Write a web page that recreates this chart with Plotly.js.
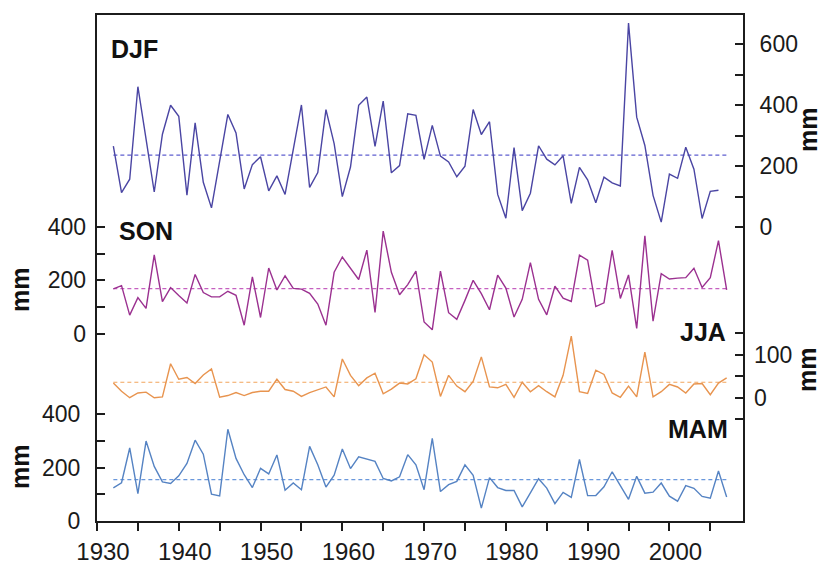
<!DOCTYPE html>
<html><head><meta charset="utf-8">
<script src="https://cdn.plot.ly/plotly-3.0.1.min.js"></script>
<style>html,body{margin:0;padding:0;background:#fff;} #chart{width:822px;height:564px;}</style>
</head><body><div id="chart"></div>
<script>
// ---- data ----
const yearsDJF = [1932,1933,1934,1935,1936,1937,1938,1939,1940,1941,1942,1943,1944,1945,1946,1947,1948,1949,
  1950,1951,1952,1953,1954,1955,1956,1957,1958,1959,1960,1961,1962,1963,1964,1965,1966,1967,1968,1969,
  1970,1971,1972,1973,1974,1975,1976,1977,1978,1979,1980,1981,1982,1983,1984,1985,1986,1987,1988,1989,
  1990,1991,1992,1993,1994,1995,1996,1997,1998,1999,2000,2001,2002,2003,2004,2005,2006];
const years = [1932,1933,1934,1935,1936,1937,1938,1939,1940,1941,1942,1943,1944,1945,1946,1947,1948,1949,
  1950,1951,1952,1953,1954,1955,1956,1957,1958,1959,1960,1961,1962,1963,1964,1965,1966,1967,1968,1969,
  1970,1971,1972,1973,1974,1975,1976,1977,1978,1979,1980,1981,1982,1983,1984,1985,1986,1987,1988,1989,
  1990,1991,1992,1993,1994,1995,1996,1997,1998,1999,2000,2001,2002,2003,2004,2005,2006,2007];

const djf = [266,113,157,461,289,115,305,400,364,105,342,147,63,216,370,309,125,205,
  231,119,168,107,254,401,130,179,386,274,100,197,400,427,265,414,178,202,372,367,
  222,334,233,214,165,200,386,304,346,107,29,261,54,111,267,223,204,234,78,196,
  155,80,164,145,135,670,361,268,104,16,174,160,262,190,28,117,121];
const son = [168,180,70,135,95,295,120,173,143,115,222,154,138,138,159,144,32,213,
  61,246,164,217,170,167,151,111,32,230,287,244,203,313,80,384,230,146,184,234,
  44,15,234,79,54,125,200,150,90,219,171,63,129,266,129,71,178,133,121,294,
  275,102,116,312,132,220,20,366,47,225,205,208,210,245,173,210,348,164];
const jja = [34,15,0,11,13,0,2,79,43,47,33,53,67,1,5,12,5,12,
  15,15,43,19,15,3,12,19,25,2,90,52,28,46,57,9,20,34,32,44,
  100,83,3,52,27,14,38,95,25,23,31,1,36,14,28,14,2,52,143,14,
  10,64,54,11,1,27,2,106,2,14,31,25,11,32,33,7,34,46];
const mam = [124,143,273,102,299,204,146,140,169,215,302,250,100,94,343,234,173,125,
  197,176,247,115,142,117,279,210,127,171,269,196,240,231,223,159,150,165,248,210,
  117,309,110,136,148,210,171,48,162,125,114,114,53,105,158,123,65,107,88,230,
  95,95,128,184,131,81,167,104,108,142,93,74,132,122,92,85,187,90];

// long-term means (dashed lines)
const meanYears = [1932, 2007];
const djfMean = [236, 236];
const sonMean = [169, 169];
const jjaMean = [36, 36];
const mamMean = [155, 155];

// axis ticks
const xTickVals = [1930,1935,1940,1945,1950,1955,1960,1965,1970,1975,1980,1985,1990,1995,2000,2005];
const xTickText = ['1930','','1940','','1950','','1960','','1970','','1980','','1990','','2000',''];
const leftTickVals = [0,100,200,300,400];
const leftTickText = ['0','','200','','400'];
const djfTickVals = [0,100,200,300,400,500,600];
const djfTickText = ['0','','200','','400','','600'];
const jjaTickVals = [-50,0,50,100,150];
const jjaTickText = ['','0','','100',''];

// ---- styling ----
const W = 822, H = 564;
const M = {l: 97, r: 79, t: 15, b: 43};
const PW = W - M.l - M.r, PH = H - M.t - M.b;
const px2x = px => (px - M.l) / PW;
const py2y = py => (H - M.b - py) / PH;

const AX = '#1c1c1c';
const FONT = 'Liberation Sans, Arial, sans-serif';
const colors = {djf: '#4a45a3', son: '#9b3190', jja: '#e8944f', mam: '#5583c3'};
const dashCol = {djf: '#5f5fd0', son: '#c560c0', jja: '#f2a55c', mam: '#6a98dc'};

function line(x, y, axis, color, name) {
  return {x: x, y: y, yaxis: axis, type: 'scatter', mode: 'lines', name: name,
    line: {color: color, width: 1.4}, hoverinfo: 'skip'};
}
function dash(x, y, axis, color) {
  return {x: x, y: y, yaxis: axis, type: 'scatter', mode: 'lines',
    line: {color: color, width: 1.2, dash: '4px,3px'}, hoverinfo: 'skip'};
}

const data = [
  dash(meanYears, djfMean, 'y3', dashCol.djf),
  dash(meanYears, sonMean, 'y2', dashCol.son),
  dash(meanYears, jjaMean, 'y4', dashCol.jja),
  dash(meanYears, mamMean, 'y', dashCol.mam),
  line(yearsDJF, djf, 'y3', colors.djf, 'DJF'),
  line(years, son, 'y2', colors.son, 'SON'),
  line(years, jja, 'y4', colors.jja, 'JJA'),
  line(years, mam, 'y', colors.mam, 'MAM')
];

const yCommon = {ticks: 'inside', ticklen: 8, tickwidth: 2, tickcolor: AX,
  showgrid: false, zeroline: false, tickfont: {family: FONT, size: 23, color: '#1a1a1a'},
  ticklabelstandoff: 10, fixedrange: true};

const layout = {
  width: W, height: H, margin: M, showlegend: false,
  paper_bgcolor: '#fff', plot_bgcolor: '#fff',
  xaxis: {range: [1930, 2009], tickvals: xTickVals, ticktext: xTickText,
    ticks: 'outside', ticklen: 8, tickwidth: 2, tickcolor: AX,
    showline: true, linewidth: 2, linecolor: AX, mirror: true,
    showgrid: false, zeroline: false, ticklabelshift: 6,
    tickfont: {family: FONT, size: 24, color: '#1a1a1a'}},
  yaxis: Object.assign({}, yCommon, {range: [0, 1891.6], side: 'left',
    tickvals: leftTickVals, ticktext: leftTickText, showline: true, linewidth: 2, linecolor: AX}),
  yaxis2: Object.assign({}, yCommon, {range: [-699.8, 1191.8], side: 'left', overlaying: 'y', anchor: 'x',
    tickvals: leftTickVals, ticktext: leftTickText, showline: false}),
  yaxis3: Object.assign({}, yCommon, {range: [-966.1, 696.7], side: 'right', overlaying: 'y', anchor: 'x',
    tickvals: djfTickVals, ticktext: djfTickText, showline: true, linewidth: 2, linecolor: AX}),
  yaxis4: Object.assign({}, yCommon, {range: [-286.7, 890], side: 'right', overlaying: 'y', anchor: 'x',
    tickvals: jjaTickVals, ticktext: jjaTickText, showline: false}),
  annotations: [
    {text: '<b>DJF</b>', x: px2x(109), y: py2y(49), xanchor: 'left', yanchor: 'middle'},
    {text: '<b>SON</b>', x: px2x(117), y: py2y(231), xanchor: 'left', yanchor: 'middle'},
    {text: '<b>JJA</b>', x: px2x(728), y: py2y(332), xanchor: 'right', yanchor: 'middle'},
    {text: '<b>MAM</b>', x: px2x(730), y: py2y(429), xanchor: 'right', yanchor: 'middle'},
    {text: '<b>mm</b>', x: px2x(20), y: py2y(290), textangle: -90, xanchor: 'center', yanchor: 'middle'},
    {text: '<b>mm</b>', x: px2x(20), y: py2y(467), textangle: -90, xanchor: 'center', yanchor: 'middle'},
    {text: '<b>mm</b>', x: px2x(808), y: py2y(130), textangle: -90, xanchor: 'center', yanchor: 'middle'},
    {text: '<b>mm</b>', x: px2x(807), y: py2y(370), textangle: -90, xanchor: 'center', yanchor: 'middle'}
  ].map(a => Object.assign({xref: 'paper', yref: 'paper', showarrow: false,
    font: {family: FONT, size: 25, color: '#111'}}, a))
};

Plotly.newPlot('chart', data, layout, {staticPlot: true});
</script>
</body></html>
